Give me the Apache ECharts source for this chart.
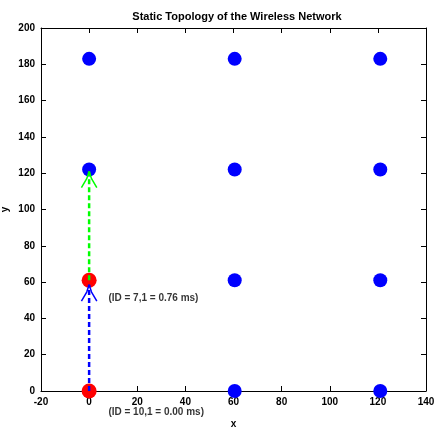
<!DOCTYPE html>
<html>
<head>
<meta charset="utf-8">
<script src="https://cdn.jsdelivr.net/npm/echarts@6/dist/echarts.min.js"></script>
<style>
  html, body { margin: 0; padding: 0; background: #fff; }
  #main { width: 434px; height: 427px; }
</style>
</head>
<body>
<div id="main"></div>
<script>
// node grid of the network
const nodeX = [0, 60.5, 121]
const nodeY = [0, 61, 122, 183]
// nodes on the route (red)
const routeNodes = [[0, 0], [0, 61]]
// hops: start and arrow tip
const blueHop = [[0, 0], [0, 58.5]]
const greenHop = [[0, 61], [0, 121]]
// delay labels
const hopLabels = [
  { name: '(ID = 7,1 = 0.76 ms)', value: [8, 51] },
  { name: '(ID = 10,1 = 0.00 ms)', value: [8, -11.5] }
]

const blueNodes = []
nodeX.forEach(x => nodeY.forEach(y => {
  if (!routeNodes.some(p => p[0] === x && p[1] === y)) blueNodes.push([x, y])
}))

// open arrow head drawn back from the tip
function arrowHead (hop) {
  const tip = hop[1]
  return [[tip[0] - 3.2, tip[1] - 9], [tip[0] - 1, tip[1] - 4], tip, [tip[0] + 1, tip[1] - 4], [tip[0] + 3.2, tip[1] - 9]]
}

const font = { fontFamily: 'Liberation Sans, Arial', fontSize: 10, fontWeight: 'bold', color: '#000' }
const line = { show: true, onZero: false, lineStyle: { color: '#000', width: 1 } }
const tick = { inside: true, length: 5, lineStyle: { color: '#000' } }

const chart = echarts.init(document.getElementById('main'))
chart.setOption({
  animation: false,
  title: {
    text: 'Static Topology of the Wireless Network',
    left: 232, textAlign: 'center', top: 6,
    textStyle: Object.assign({}, font, { fontSize: 11 })
  },
  grid: { left: 41, right: 8, top: 28, bottom: 36, outerBoundsMode: 'none', containLabel: false },
  xAxis: [{
    type: 'value', min: -20, max: 140, interval: 20,
    name: 'x', nameLocation: 'middle', nameGap: 28, nameTextStyle: font,
    axisLine: line, axisTick: tick,
    axisLabel: Object.assign({ margin: 6 }, font),
    splitLine: { show: false }
  }, {
    type: 'value', min: -20, max: 140, interval: 20, position: 'top',
    axisLine: line, axisTick: tick,
    axisLabel: { show: false }, splitLine: { show: false }
  }],
  yAxis: [{
    type: 'value', min: 0, max: 200, interval: 20,
    name: 'y', nameLocation: 'middle', nameGap: 31, nameRotate: 90, nameMoveOverlap: false,
    nameTextStyle: font,
    axisLine: line, axisTick: tick,
    axisLabel: Object.assign({ margin: 6 }, font),
    splitLine: { show: false }
  }, {
    type: 'value', min: 0, max: 200, interval: 20, position: 'right',
    axisLine: line, axisTick: tick,
    axisLabel: { show: false }, splitLine: { show: false }
  }],
  series: [
    {
      type: 'scatter', data: blueNodes, symbol: 'circle', symbolSize: 14,
      itemStyle: { color: '#0000ff', opacity: 1 }, clip: false, z: 2
    },
    {
      type: 'scatter', data: routeNodes, symbol: 'circle', symbolSize: 15,
      itemStyle: { color: '#ff0000', opacity: 1 }, clip: false, z: 2
    },
    {
      type: 'line', data: blueHop, showSymbol: false, z: 3,
      lineStyle: { color: '#0000ff', width: 2.5, type: [5, 3] }
    },
    {
      type: 'line', data: arrowHead(blueHop), showSymbol: false, z: 3,
      lineStyle: { color: '#0000ff', width: 1.5 }
    },
    {
      type: 'line', data: greenHop, showSymbol: false, z: 3,
      lineStyle: { color: '#00ff00', width: 2.5, type: [5, 3] }
    },
    {
      type: 'line', data: arrowHead(greenHop), showSymbol: false, z: 3,
      lineStyle: { color: '#00ff00', width: 1.5 }
    },
    {
      type: 'scatter', data: hopLabels, symbolSize: 0, clip: false, z: 4,
      label: Object.assign({ show: true, position: 'right', distance: 0, formatter: '{b}' }, font)
    }
  ]
})
</script>
</body>
</html>
